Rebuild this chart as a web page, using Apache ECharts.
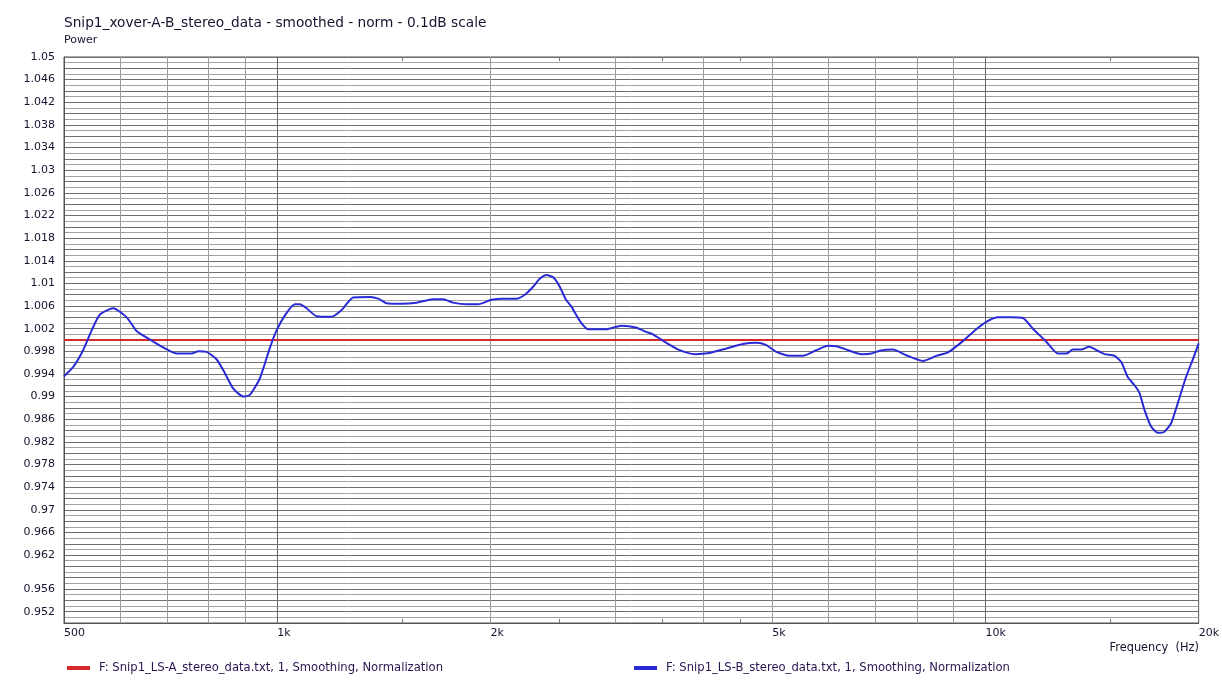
<!DOCTYPE html>
<html>
<head>
<meta charset="utf-8">
<script src="https://cdn.jsdelivr.net/npm/echarts@6/dist/echarts.min.js"></script>
<style>
html,body{margin:0;padding:0;background:#fff;}
#chart{width:1222px;height:699px;}
</style>
</head>
<body>
<div id="chart"></div>
<script>
const chartTitle = 'Snip1_xover-A-B_stereo_data - smoothed - norm - 0.1dB scale';
const yAxisName = 'Power';
const xAxisName = 'Frequency  (Hz)';
const seriesNameA = 'F: Snip1_LS-A_stereo_data.txt, 1, Smoothing, Normalization';
const seriesNameB = 'F: Snip1_LS-B_stereo_data.txt, 1, Smoothing, Normalization';

// Frequencies (Hz) for series B
const freqB = [500,515,532,547,562,587,613,633,661,683,721,757,774,795,821,844,867,896,915,945,
  977,998,1026,1059,1077,1100,1137,1193,1233,1280,1352,1389,1427,1498,1573,1660,1715,1772,1851,1922,
  2007,2084,2177,2237,2298,2348,2400,2458,2506,2555,2603,2674,2747,2916,3062,3208,3324,3393,3544,3701,
  3886,4080,4308,4544,4747,4905,5067,5291,5525,5771,5993,6159,6431,6680,6901,7089,7402,7732,8161,8524,
  8852,9293,9707,10027,10414,10877,11295,11667,12187,12656,13006,13288,13655,14006,14412,14730,15217,15552,15889,16239,
  16505,16775,17139,17510,17896,18289,18686,19203,19727,20000];
// Normalized power values for series B
const levelB = [0.9936,0.9952,0.9982,1.0017,1.0045,1.0056,1.0040,1.0016,1.0001,0.9990,0.9976,0.9976,0.9980,0.9979,0.9966,0.9941,0.9914,0.9900,0.9903,0.9932,
  0.9987,1.0017,1.0044,1.0063,1.0063,1.0056,1.0042,1.0041,1.0053,1.0075,1.0076,1.0073,1.0065,1.0064,1.0066,1.0072,1.0072,1.0066,1.0063,1.0063,
  1.0071,1.0073,1.0073,1.0080,1.0094,1.0108,1.0115,1.0110,1.0094,1.0072,1.0059,1.0034,1.0019,1.0019,1.0025,1.0022,1.0014,1.0010,0.9995,0.9982,
  0.9975,0.9977,0.9985,0.9993,0.9995,0.9991,0.9979,0.9972,0.9972,0.9982,0.9990,0.9989,0.9981,0.9975,0.9976,0.9981,0.9983,0.9973,0.9963,0.9972,
  0.9978,0.9998,1.0019,1.0032,1.0040,1.0040,1.0039,1.0020,0.9997,0.9976,0.9976,0.9983,0.9983,0.9988,0.9981,0.9975,0.9972,0.9961,0.9934,0.9920,
  0.9906,0.9876,0.9847,0.9836,0.9838,0.9853,0.9888,0.9935,0.9973,0.9994];
// Series A (reference, flat)
const freqA = [500, 20000];
const levelA = [1.0, 1.0];

const xLabelValues = [500, 1000, 2000, 5000, 10000, 20000];
const xLabelTexts = ['500', '1k', '2k', '5k', '10k', '20k'];
const xLightGrid = [600, 700, 800, 900, 2000, 3000, 4000, 5000, 6000, 7000, 8000, 9000];
const xDarkGrid = [1000, 10000];
const xMinorTicks = [1500, 2500, 3500, 4500, 15000];
const yLabelValues = [1.05,1.046,1.042,1.038,1.034,1.03,1.026,1.022,1.018,1.014,1.01,1.006,1.002,
  0.998,0.994,0.99,0.986,0.982,0.978,0.974,0.97,0.966,0.962,0.956,0.952];

const FONT = 'DejaVu Sans';
const TXT = '#14142e';
const chart = echarts.init(document.getElementById('chart'), null, {renderer: 'canvas'});

const pairs = (xs, ys) => xs.map((x, i) => [x, ys[i]]);
const yLabelSet = new Set(yLabelValues.map(v => Math.round(v * 1000)));

const baseX = {
  type: 'log', logBase: 10, min: 500, max: 20000, gridIndex: 0,
  axisLine: {show: false}, axisLabel: {show: false}, axisTick: {show: false},
  splitLine: {show: false}, minorTick: {show: false}
};

chart.setOption({
  animation: false,
  backgroundColor: '#ffffff',
  title: [
    {text: chartTitle, left: 59, top: 11, textStyle: {fontFamily: FONT, fontSize: 13.7, fontWeight: 'normal', color: TXT}},
    {text: yAxisName, left: 59, top: 30, textStyle: {fontFamily: FONT, fontSize: 11, fontWeight: 'normal', color: TXT}},
    {text: xAxisName, right: 18, top: 638, textStyle: {fontFamily: FONT, fontSize: 11.4, fontWeight: 'normal', color: TXT}}
  ],
  legend: [
    {data: [seriesNameA], left: 67, top: 662, padding: 0, icon: 'rect', itemWidth: 23, itemHeight: 4,
     textStyle: {fontFamily: FONT, fontSize: 11.6, color: '#2a1450', padding: [0, 0, 0, 4]}},
    {data: [seriesNameB], left: 634, top: 662, padding: 0, icon: 'rect', itemWidth: 23, itemHeight: 4,
     textStyle: {fontFamily: FONT, fontSize: 11.6, color: '#2a1450', padding: [0, 0, 0, 4]}}
  ],
  grid: {left: 64, right: 22, top: 57, bottom: 76, show: true, borderColor: '#555', borderWidth: 1, containLabel: false},
  xAxis: [
    Object.assign({}, baseX, {
      position: 'bottom',
      axisLine: {show: true, onZero: false, lineStyle: {color: '#555', width: 1}},
      axisTick: {show: false, customValues: xLightGrid},
      axisLabel: {show: true, customValues: xLabelValues, align: 'left', margin: 5,
        fontFamily: FONT, fontSize: 11, color: TXT,
        formatter: v => { const i = xLabelValues.findIndex(x => Math.abs(x - v) < 1); return i >= 0 ? xLabelTexts[i] : ''; }},
      splitLine: {show: true, lineStyle: {color: '#9c9c9c', width: 1}}
    }),
    Object.assign({}, baseX, {
      position: 'bottom',
      axisTick: {show: false, customValues: xDarkGrid},
      splitLine: {show: true, lineStyle: {color: '#666', width: 1}}
    }),
    Object.assign({}, baseX, {
      position: 'bottom',
      axisTick: {show: true, inside: true, length: 4, customValues: xMinorTicks, lineStyle: {color: '#777'}}
    }),
    Object.assign({}, baseX, {
      position: 'top',
      axisTick: {show: true, inside: true, length: 4, customValues: xMinorTicks, lineStyle: {color: '#777'}}
    })
  ],
  yAxis: {
    type: 'value', min: 0.95, max: 1.05, interval: 0.001,
    axisLine: {show: true, lineStyle: {color: '#555'}},
    axisTick: {show: false},
    axisLabel: {fontFamily: FONT, fontSize: 11, color: TXT, margin: 9,
      formatter: v => yLabelSet.has(Math.round(v * 1000)) ? String(+v.toFixed(3)) : ''},
    splitLine: {show: true, lineStyle: {color: ['#6f6f6f', '#a3a3a3'], width: 1}}
  },
  series: [
    {name: seriesNameA, type: 'line', xAxisIndex: 0, data: pairs(freqA, levelA), showSymbol: false,
     lineStyle: {color: '#d42a2a', width: 2}, itemStyle: {color: '#d42a2a'}, z: 3},
    {name: seriesNameB, type: 'line', xAxisIndex: 0, data: pairs(freqB, levelB), showSymbol: false, smooth: 0.2,
     lineStyle: {color: '#2b2bd6', width: 2}, itemStyle: {color: '#2b2bd6'}, z: 4}
  ]
});
</script>
</body>
</html>
